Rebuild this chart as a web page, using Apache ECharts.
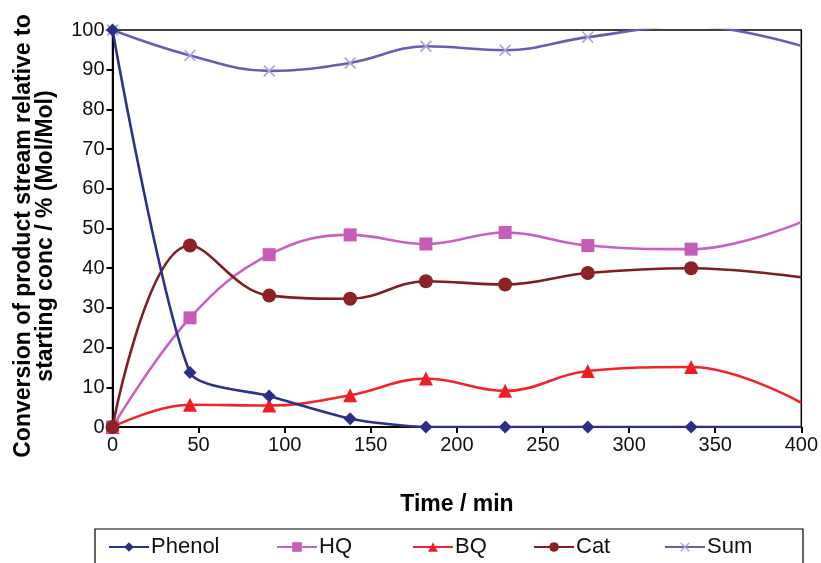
<!DOCTYPE html>
<html>
<head>
<meta charset="utf-8">
<script src="https://cdn.jsdelivr.net/npm/echarts@6/dist/echarts.min.js"></script>
<style>
html,body{margin:0;padding:0;background:#fff;}
#chart{width:821px;height:563px;}
</style>
</head>
<body>
<div id="chart"></div>
<script>
var times = [0, 45, 91, 138, 182, 228, 276, 336, 400];
var phenol = [100, 13.7, 7.8, 2.1, 0, 0, 0, 0, 0];
var hq = [0, 27.5, 43.4, 48.4, 46.1, 49.0, 45.7, 44.8, 51.6];
var bq = [0, 5.6, 5.4, 8.0, 12.2, 9.1, 14.1, 15.1, 6.1];
var cat = [0, 45.7, 33.1, 32.3, 36.7, 35.9, 38.8, 40.0, 37.7];
var sum = [100, 93.6, 89.7, 91.7, 95.9, 94.9, 98.2, 101, 96.0];
var xTicks = [0, 50, 100, 150, 200, 250, 300, 350, 400];
var yTicks = [0, 10, 20, 30, 40, 50, 60, 70, 80, 90, 100];

var crossPath = 'path://M0,1L1,0L5,4L9,0L10,1L6,5L10,9L9,10L5,6L1,10L0,9L4,5Z';

function pairs(vals) {
  return vals.map(function (v, i) {
    var item = { value: [times[i], v] };
    if (i === times.length - 1) item.symbol = 'none';
    return item;
  });
}

var FONT = '"Liberation Sans", Arial, sans-serif';

function mkSeries(name, vals, color, lineColor, symbol, size, z, smooth) {
  return {
    name: name, type: 'line', data: pairs(vals), smooth: smooth,
    symbol: symbol, symbolSize: size, z: z,
    lineStyle: { color: lineColor, width: 2.6 },
    itemStyle: { color: color },
    clip: true
  };
}

var legendPos = [
  { name: 'Phenol', left: 108 },
  { name: 'HQ', left: 276 },
  { name: 'BQ', left: 412 },
  { name: 'Cat', left: 533 },
  { name: 'Sum', left: 664 }
];

var chart = echarts.init(document.getElementById('chart'), null, { renderer: 'canvas' });
chart.setOption({
  backgroundColor: '#fff',
  animation: false,
  textStyle: { fontFamily: FONT },
  grid: {
    left: 112.5, right: 19, top: 30, bottom: 136,
    show: true, borderColor: '#000', borderWidth: 1.5, backgroundColor: 'transparent'
  },
  xAxis: {
    type: 'value', min: xTicks[0], max: xTicks[xTicks.length - 1], interval: 50,
    name: 'Time / min', nameLocation: 'middle', nameGap: 66,
    nameTextStyle: { fontFamily: FONT, fontWeight: 'bold', fontSize: 23, color: '#000' },
    axisLine: { show: true, lineStyle: { color: '#000', width: 2 } },
    axisTick: { show: true, inside: false, length: 6, lineStyle: { color: '#000', width: 2 } },
    axisLabel: { fontFamily: FONT, fontSize: 20, color: '#111', margin: 8 },
    splitLine: { show: false }
  },
  yAxis: {
    type: 'value', min: yTicks[0], max: yTicks[yTicks.length - 1], interval: 10,
    axisLine: { show: true, lineStyle: { color: '#000', width: 2 } },
    axisTick: { show: true, inside: false, length: 6, lineStyle: { color: '#000', width: 2 } },
    axisLabel: { fontFamily: FONT, fontSize: 20, color: '#111', margin: 8 },
    splitLine: { show: false }
  },
  legend: legendPos.map(function (l) {
    return {
      data: [l.name], left: l.left, top: 536, padding: 0,
      itemWidth: 40, itemHeight: 12,
      textStyle: { fontFamily: FONT, fontSize: 22, color: '#111', padding: [0, 0, 0, -3] }
    };
  }),
  graphic: [{
    type: 'rect', shape: { x: 95, y: 529, width: 708, height: 45 },
    style: { fill: 'none', stroke: '#000', lineWidth: 1.2 }, z: 0, silent: true
  }, {
    type: 'text', x: 35, y: 236, rotation: Math.PI / 2, silent: true,
    style: {
      text: 'Conversion of product stream relative to\nstarting conc / % (Mol/Mol)',
      font: 'bold 23px ' + FONT, fill: '#000', align: 'center', verticalAlign: 'middle',
      lineHeight: 22
    }
  }],
  series: [
    mkSeries('Phenol', phenol, '#2B2E86', '#2E318C', 'diamond', 13, 6, 0.22),
    mkSeries('HQ', hq, '#C65BBA', '#C862C0', 'rect', 13, 4, 0.4),
    mkSeries('BQ', bq, '#F01E23', '#F2242A', 'triangle', 14, 3, 0.4),
    mkSeries('Cat', cat, '#8A2226', '#7E1E22', 'circle', 14, 5, 0.4),
    mkSeries('Sum', sum, '#ADA5D6', '#6A5CB0', crossPath, 12, 2, 0.4)
  ]
});
</script>
</body>
</html>
